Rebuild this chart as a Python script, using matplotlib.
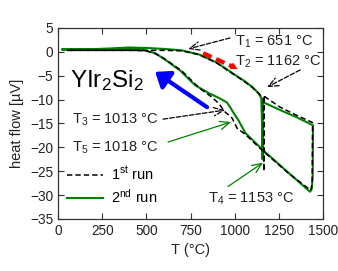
import numpy as np
import matplotlib
matplotlib.use("Agg")
import matplotlib.pyplot as plt

plt.rcParams['font.family'] = ['Liberation Sans', 'DejaVu Sans']
plt.rcParams['mathtext.fontset'] = 'custom'
plt.rcParams['mathtext.rm'] = 'Liberation Sans'
plt.rcParams['mathtext.it'] = 'Liberation Sans'

# ---- data ----
# 2nd run (green), heating then cooling
heat2_T = [25, 150, 300, 400, 500, 600, 700, 800, 900, 1000, 1050, 1100, 1135, 1150,
           1155, 1157, 1159, 1163, 1257, 1350, 1443]
heat2_q = [0.5, 0.5, 0.7, 0.9, 0.8, 0.6, 0.3, -0.6, -2.3, -4.8, -6.0, -7.4, -8.7, -9.7,
           -16.0, -22.5, -10.4, -10.6, -12.2, -13.7, -15.4]
cool2_T = [1443, 1441, 1436, 1426, 1300, 1160, 1060, 1020, 990, 972, 955, 917, 850,
           775, 690, 600, 550, 480, 400, 25]
cool2_q = [-15.4, -26.0, -28.7, -29.3, -25.2, -20.6, -17.0, -14.3, -12.6, -11.5, -10.6,
           -9.8, -8.6, -7.0, -3.9, -1.5, -0.3, 0.4, 0.6, 0.5]

# 1st run (black dashed)
heat1_T = [50, 300, 500, 600, 700, 800, 900, 1000, 1050, 1100, 1140, 1155, 1162,
           1165, 1167, 1170, 1257, 1350, 1440]
heat1_q = [0.3, 0.3, 0.3, 0.3, 0.2, -0.6, -2.4, -4.9, -6.1, -7.5, -8.9, -9.4, -10.0,
           -25.0, -9.0, -9.4, -11.6, -13.3, -14.8]
cool1_T = [1440, 1438, 1430, 1300, 1160, 1060, 1013, 985, 945, 906, 870, 800, 700,
           600, 550, 500, 400, 50]
cool1_q = [-14.8, -27.5, -29.0, -25.3, -20.8, -17.3, -16.0, -13.9, -12.6, -10.7, -9.5,
           -7.6, -4.0, -1.4, -0.4, 0.2, 0.3, 0.3]

# transition labels: text, text position, arrow start, arrow tip, colour, style
labels = [r"T$_1$ = 651 °C", r"T$_2$ = 1162 °C", r"T$_3$ = 1013 °C",
          r"T$_5$ = 1018 °C", r"T$_4$ = 1153 °C"]
label_xy = [(1000, 2.1), (1000, -2.1), (79, -14.3), (79, -20.0), (849, -30.7)]
arrow_from = [(973, 2.9), (1370, -3.8), (594, -14.1), (622, -18.9), (962, -28.2)]
arrow_to = [(736, 0.6), (1183, -7.4), (945, -12.2), (979, -14.7), (1160, -23.2)]
arrow_col = ['k', 'k', 'k', 'green', 'green']
arrow_ls = ['--', '--', '--', '-', '-']

heat_dir = [(821, -0.3), (1030, -3.9)]
cool_dir = [(843, -11.6), (549, -4.2)]

fig = plt.figure(figsize=(3.38, 2.71), dpi=100)
ax = fig.add_axes([0.172, 0.192, 0.784, 0.705])

ax.plot(heat2_T + cool2_T, heat2_q + cool2_q, color='green', lw=1.5, label='2$^{\\rm nd}$ run', zorder=2)
ax.plot(heat1_T + cool1_T, heat1_q + cool1_q, color='k', lw=1.1, ls=(0, (3.5, 2)), label='1$^{\\rm st}$ run', zorder=3)

for txt, pos, a0, a1, c, ls in zip(labels, label_xy, arrow_from, arrow_to, arrow_col, arrow_ls):
    ax.text(pos[0], pos[1], txt, fontsize=10.5, va='center', ha='left', color='#222222')
    ax.annotate('', xy=a1, xytext=a0,
                arrowprops=dict(arrowstyle='->,head_length=0.7,head_width=0.3', color=c,
                                lw=0.9, ls=ls, shrinkA=0, shrinkB=0))

# heating direction (red dashed) and cooling direction (blue)
ax.plot([heat_dir[0][0], heat_dir[1][0] - 30], [heat_dir[0][1], heat_dir[1][1] + 0.6],
        color='red', lw=3, ls=(0, (2.2, 1.2)), zorder=4)
ax.annotate('', xy=heat_dir[1], xytext=(heat_dir[1][0] - 40, heat_dir[1][1] + 0.8),
            arrowprops=dict(arrowstyle='-|>', color='red', lw=0, mutation_scale=13), zorder=4)
ax.annotate('', xy=cool_dir[1], xytext=cool_dir[0],
            arrowprops=dict(arrowstyle='-|>,head_length=0.55,head_width=0.42', color='blue',
                            lw=3, mutation_scale=15, shrinkA=0, shrinkB=0), zorder=4)

ax.text(68, -7.4, r"YIr$_2$Si$_2$", fontsize=17.5, va='baseline', ha='left')

ax.set_xlim(0, 1500)
ax.set_ylim(-35, 5)
ax.set_xticks(np.arange(0, 1501, 250))
ax.set_yticks(np.arange(-35, 6, 5))
ax.tick_params(direction='in', top=True, right=True, length=4, width=0.8,
               labelsize=9.8, colors='#333333', labelcolor='#222222')
for s in ax.spines.values():
    s.set_color('#333333')
    s.set_linewidth(0.9)
ax.set_xlabel('T (°C)', fontsize=10.5, color='#222222', labelpad=4)
ax.set_ylabel('heat flow [µV]', fontsize=10.5, color='#222222', labelpad=4)

h, l = ax.get_legend_handles_labels()
ax.legend(h[::-1], l[::-1], loc='center left', bbox_to_anchor=(0.0, 0.175), frameon=False,
          fontsize=10.5, handlelength=2.5, handletextpad=0.55, labelspacing=0.35,
          borderaxespad=0.2)

fig.savefig('out.png', dpi=100)
